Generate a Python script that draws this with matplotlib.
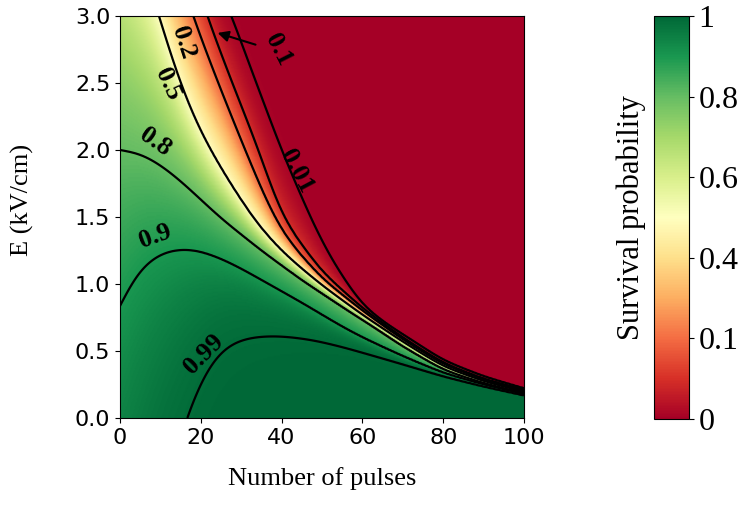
import numpy as np
import matplotlib.pyplot as plt

SERIF = "Liberation Serif"

# contour levels of the survival probability and where each one runs,
# given as (number of pulses, field in kV/cm) pairs
levels = [0.99, 0.9, 0.8, 0.5, 0.2, 0.1, 0.01]

n_099 = [0, 8, 12, 15, 16.5, 18, 19.5, 21.5, 24, 27, 30, 34, 38, 42, 48, 55, 62, 70, 80, 90, 100]
e_099 = [-2.6, -1.0, -0.45, -0.12, 0.0, 0.13, 0.24, 0.36, 0.47, 0.545, 0.585, 0.607, 0.612,
         0.605, 0.58, 0.53, 0.47, 0.40, 0.31, 0.235, 0.17]

n_090 = [0, 2.5, 5, 7.5, 10, 12.5, 15, 17.5, 20, 25, 30, 35, 40, 45, 50, 55, 60, 70, 80, 90, 100]
e_090 = [0.836, 1.0, 1.11, 1.18, 1.225, 1.25, 1.26, 1.258, 1.245, 1.19, 1.115, 1.03, 0.945,
         0.86, 0.77, 0.68, 0.60, 0.46, 0.335, 0.25, 0.18]

n_080 = [0, 5, 10, 15, 20, 25, 30, 35, 40, 45, 50, 55, 60, 70, 80, 90, 100]
e_080 = [2.0, 1.975, 1.89, 1.77, 1.63, 1.49, 1.37, 1.25, 1.14, 1.03, 0.93, 0.83, 0.735,
         0.535, 0.36, 0.26, 0.185]

n_050 = [0, 5, 9.7, 13, 16.5, 20, 24.75, 29, 33, 37, 42, 50, 60, 70, 80, 90, 100]
e_050 = [3.9, 3.45, 3.0, 2.66, 2.37, 2.13, 1.875, 1.67, 1.49, 1.34, 1.19, 0.99, 0.77,
         0.57, 0.385, 0.275, 0.195]

n_020 = [0, 10, 18, 23, 28, 33, 38, 42, 50, 60, 70, 80, 90, 100]
e_020 = [4.6, 3.75, 3.0, 2.6, 2.22, 1.85, 1.5, 1.31, 1.04, 0.80, 0.585, 0.40, 0.285, 0.205]

n_010 = [0, 10, 21.5, 26, 30, 34, 39.6, 44, 50, 60, 70, 80, 90, 100]
e_010 = [5.2, 4.1, 3.0, 2.64, 2.33, 2.03, 1.53, 1.33, 1.09, 0.82, 0.60, 0.41, 0.29, 0.21]

n_001 = [0, 10, 20, 27.7, 31, 35, 40.3, 44, 47, 52, 59.4, 65, 70, 80, 90, 100]
e_001 = [5.8, 4.6, 3.55, 3.0, 2.72, 2.4, 1.97, 1.72, 1.5, 1.2, 0.86, 0.72, 0.625, 0.43,
         0.31, 0.22]

level_points = [(n_099, e_099), (n_090, e_090), (n_080, e_080), (n_050, e_050),
                (n_020, e_020), (n_010, e_010), (n_001, e_001)]

# label text, position (pulses, kV/cm) and rotation
label_text = ["0.2", "0.5", "0.8", "0.1", "0.01", "0.9", "0.99"]
label_n = [15.6, 11.8, 8.7, 39.2, 43.7, 8.8, 20.7]
label_e = [2.80, 2.49, 2.06, 2.75, 1.84, 1.355, 0.478]
label_rot = [-72, -65, -35, -63, -62, 20, 45]

cbar_ticks = [0, 0.2, 0.4, 0.6, 0.8, 1]
cbar_ticklabels = ["0", "0.1", "0.4", "0.6", "0.8", "1"]


def smooth(y, sigma):
    """Gaussian smoothing along n, odd-reflected at the ends to keep the slope."""
    half = int(4 * sigma)
    k = np.exp(-0.5 * (np.arange(-half, half + 1) / sigma) ** 2)
    k /= k.sum()
    yp = np.pad(y, half, mode="reflect", reflect_type="odd")
    return np.convolve(yp, k, mode="valid")


# build the survival map: between contour levels interpolate log(-log S) in E
pulses = np.linspace(0, 100, 401)
field = np.linspace(0, 3, 301)
curves = np.array([smooth(np.interp(pulses, n, e), 10) for n, e in level_points])
t_lev = np.log(-np.log(np.array(levels)))

T = np.empty((field.size, pulses.size))
for j in range(pulses.size):
    ec = curves[:, j]
    col = np.interp(field, ec, t_lev)
    lo = field < ec[0]
    col[lo] = t_lev[0] + (field[lo] - ec[0]) * (t_lev[1] - t_lev[0]) / (ec[1] - ec[0])
    hi = field > ec[-1]
    col[hi] = t_lev[-1] + (field[hi] - ec[-1]) * (t_lev[-1] - t_lev[-2]) / (ec[-1] - ec[-2])
    T[:, j] = col
survival = np.exp(-np.exp(np.clip(T, -30, 30)))

fig = plt.figure(figsize=(7.47, 5.13), dpi=100)
ax = fig.add_axes([120 / 747, 95 / 513, 404 / 747, 402 / 513])
cax = fig.add_axes([654 / 747, 94 / 513, 35 / 747, 403 / 513])

mesh = ax.pcolormesh(pulses, field, survival, cmap="RdYlGn", vmin=0, vmax=1,
                     shading="gouraud", rasterized=True)
ax.contour(pulses, field, survival, levels=sorted(levels), colors="k", linewidths=1.6)

for txt, x, y, r in zip(label_text, label_n, label_e, label_rot):
    ax.text(x, y, txt, rotation=r, ha="center", va="center", fontsize=19,
            fontweight="bold", family=SERIF, rotation_mode="anchor")

ax.annotate("", xy=(23.5, 2.88), xytext=(34.2, 2.78),
            arrowprops=dict(arrowstyle="-|>", color="k", lw=1.5, mutation_scale=16))

ax.set_xlim(0, 100)
ax.set_ylim(0, 3)
ax.set_xticks(np.arange(0, 101, 20))
ax.set_yticks(np.arange(0, 3.01, 0.5))
ax.set_yticklabels([f"{v:.1f}" for v in np.arange(0, 3.01, 0.5)])
ax.tick_params(labelsize=16)
ax.set_xlabel("Number of pulses", family=SERIF, fontsize=19, labelpad=14)
ax.set_ylabel("E (kV/cm)", family=SERIF, fontsize=19)
ax.yaxis.set_label_coords(-0.213, 0.542)

cbar = fig.colorbar(mesh, cax=cax, ticks=cbar_ticks)
cbar.ax.set_yticklabels(cbar_ticklabels, family=SERIF, fontsize=23)
cbar.ax.yaxis.set_label_position("left")
cbar.set_label("Survival probability", family=SERIF, fontsize=22, labelpad=6)

fig.savefig("out.png", dpi=100)
